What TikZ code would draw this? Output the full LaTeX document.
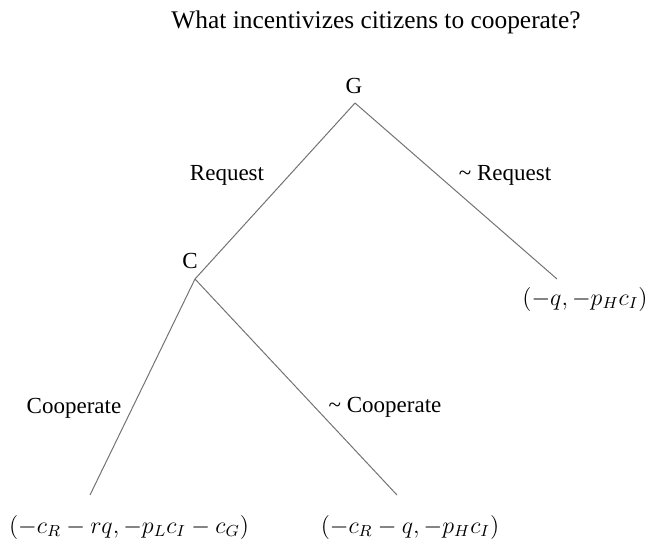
\documentclass[tikz,border=0pt]{standalone}
\usepackage{fontspec}
\setmainfont{Liberation Serif}
\usetikzlibrary{positioning}

\begin{document}
\begin{tikzpicture}[
    x=0.5pt, y=-0.5pt,
    branch/.style={draw=black!55, line width=0.5pt},
    lbl/.style={font=\fontsize{11.5}{13}\selectfont, inner sep=1pt},
    pay/.style={font=\fontsize{11.5}{13}\selectfont, inner sep=1pt}
  ]
    \useasboundingbox (0,0) rectangle (646,547);
    \node[lbl, font=\fontsize{12.7}{14}\selectfont] (title) at (376,22) {What incentivizes citizens to cooperate?};
    % decision nodes
    \coordinate (g) at (355,103);
    \coordinate (c) at (195,279);
    \coordinate (e1) at (557,279);
    \coordinate (e2) at (90,495);
    \coordinate (e3) at (397,495);
    \node[lbl] (gname) at (354,86) {G};
    \node[lbl] (cname) at (190,261) {C};
    % payoffs
    \node[pay] (t1) at (585,299) {$(-q,-p_Hc_I)$};
    \node[pay] (t2) at (129,527) {$(-c_R-rq,-p_Lc_I-c_G)$};
    \node[pay] (t3) at (410,527) {$(-c_R-q,-p_Hc_I)$};
    % branches
    \draw[branch] (g) -- (c);
    \draw[branch] (g) -- (e1);
    \draw[branch] (c) -- (e2);
    \draw[branch] (c) -- (e3);
    \node[lbl] (req) at (227,175) {Request};
    \node[lbl] (nreq) at (505,175) {\textasciitilde\ Request};
    \node[lbl] (coop) at (74,408) {Cooperate};
    \node[lbl] (ncoop) at (385,407) {\textasciitilde\ Cooperate};
  \end{tikzpicture}
\end{document}
